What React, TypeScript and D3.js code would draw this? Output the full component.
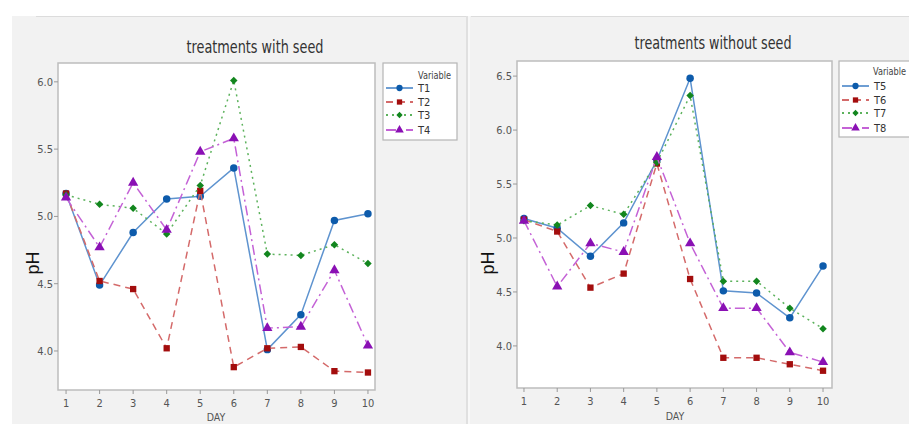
import React from 'react';
import * as d3 from 'd3';

// days on the x axis
const days = [1, 2, 3, 4, 5, 6, 7, 8, 9, 10];

// treatments with seed
const t1 = [5.17, 4.49, 4.88, 5.13, 5.15, 5.36, 4.01, 4.27, 4.97, 5.02];
const t2 = [5.17, 4.52, 4.46, 4.02, 5.19, 3.88, 4.02, 4.03, 3.85, 3.84];
const t3 = [5.16, 5.09, 5.06, 4.87, 5.23, 6.01, 4.72, 4.71, 4.79, 4.65];
const t4 = [5.14, 4.77, 5.25, 4.90, 5.48, 5.58, 4.17, 4.18, 4.60, 4.04];

// treatments without seed
const t5 = [5.18, 5.09, 4.83, 5.14, 5.72, 6.48, 4.51, 4.49, 4.26, 4.74];
const t6 = [5.17, 5.06, 4.54, 4.67, 5.69, 4.62, 3.89, 3.89, 3.83, 3.77];
const t7 = [5.16, 5.12, 5.30, 5.22, 5.70, 6.32, 4.60, 4.60, 4.35, 4.16];
const t8 = [5.16, 4.55, 4.95, 4.87, 5.75, 4.95, 4.35, 4.35, 3.94, 3.85];

const leftTicks = [4.0, 4.5, 5.0, 5.5, 6.0];
const rightTicks = [4.0, 4.5, 5.0, 5.5, 6.0, 6.5];

// line / marker styles per slot (same for both panels)
const styles = [
  { line: '#5e93cf', mark: '#0d5bab', dash: null, sym: d3.symbolCircle, size: 44 },
  { line: '#d46a6a', mark: '#a30d0d', dash: '7,5', sym: d3.symbolSquare, size: 40 },
  { line: '#5cb25c', mark: '#12861e', dash: '2,4', sym: d3.symbolDiamond2, size: 36 },
  { line: '#c462d6', mark: '#8a10b4', dash: '10,4,2,4', sym: d3.symbolTriangle, size: 46 },
];

const condensed = '"DejaVu Sans Condensed", "Liberation Sans Narrow", "DejaVu Sans", sans-serif';

type Panel = {
  title: string;
  titleX: number;
  titleY: number;
  titleW: number;
  names: string[];
  values: number[][];
  plot: [number, number, number, number]; // x0, y0, x1, y1
  xDomain: [number, number];
  yDomain: [number, number];
  yTicks: number[];
  legend: { x: number; y: number; w: number; h: number; rows: number[]; head: number; headX: number };
  phX: number;
  dayX: number;
  dayY: number;
};

const panels: Panel[] = [
  {
    title: 'treatments with seed',
    titleX: 255, titleY: 53, titleW: 137,
    names: ['T1', 'T2', 'T3', 'T4'],
    values: [t1, t2, t3, t4],
    plot: [58, 63, 375, 390],
    xDomain: [0.76, 10.21],
    yDomain: [3.71, 6.14],
    yTicks: leftTicks,
    legend: { x: 383, y: 63, w: 74, h: 77, rows: [88, 102, 115, 130], head: 79, headX: 418 },
    phX: 33, dayX: 216, dayY: 421,
  },
  {
    title: 'treatments without seed',
    titleX: 713, titleY: 49, titleW: 157,
    names: ['T5', 'T6', 'T7', 'T8'],
    values: [t5, t6, t7, t8],
    plot: [517, 61, 832, 388],
    xDomain: [0.79, 10.27],
    yDomain: [3.61, 6.64],
    yTicks: rightTicks,
    legend: { x: 839, y: 61, w: 80, h: 76, rows: [86, 100, 113, 128], head: 75, headX: 873 },
    phX: 488, dayX: 675, dayY: 420,
  },
];

const ChartPanel = ({ p }: { p: Panel }) => {
  const [x0, y0, x1, y1] = p.plot;
  const x = d3.scaleLinear().domain(p.xDomain).range([x0, x1]);
  const y = d3.scaleLinear().domain(p.yDomain).range([y1, y0]);
  const line = d3.line<number>().x((d, i) => x(days[i])).y(d => y(d));
  const L = p.legend;

  return (
    <g>
      <text x={p.titleX} y={p.titleY} textAnchor="middle" fontSize={18} fill="#333"
        fontFamily={condensed} textLength={p.titleW} lengthAdjust="spacingAndGlyphs">{p.title}</text>
      <rect x={x0} y={y0} width={x1 - x0} height={y1 - y0} fill="#fff" stroke="#bdbdbd" strokeWidth={1.5} />
      {p.yTicks.map(t => (
        <g key={t}>
          <line x1={x0 - 4} x2={x0} y1={y(t)} y2={y(t)} stroke="#999" />
          <text x={x0 - 5} y={y(t) + 4} textAnchor="end" fontSize={11} fill="#555"
            fontFamily={condensed}>{t.toFixed(1)}</text>
        </g>
      ))}
      {days.map(d => (
        <g key={d}>
          <line x1={x(d)} x2={x(d)} y1={y1} y2={y1 + 4} stroke="#999" />
          <text x={x(d)} y={y1 + 17} textAnchor="middle" fontSize={11} fill="#555"
            fontFamily={condensed}>{d}</text>
        </g>
      ))}
      <text x={p.dayX} y={p.dayY} textAnchor="middle" fontSize={10.5} fill="#555" fontFamily={condensed}>DAY</text>
      <text transform={`translate(${p.phX + 6},263) rotate(-90)`} textAnchor="middle" fontSize={18}
        fill="#111" fontFamily="'Liberation Sans', Arial, sans-serif">pH</text>
      {p.values.map((vals, k) => {
        const s = styles[k];
        return (
          <g key={k}>
            <path d={line(vals) ?? ''} fill="none" stroke={s.line} strokeWidth={1.5}
              strokeDasharray={s.dash ?? undefined} />
            {vals.map((v, i) => (
              <path key={i} transform={`translate(${x(days[i])},${y(v)})`}
                d={d3.symbol(s.sym, s.size)() ?? ''} fill={s.mark} />
            ))}
          </g>
        );
      })}
      <rect x={L.x} y={L.y} width={L.w} height={L.h} fill="#fff" stroke="#b5b5b5" strokeWidth={1.2} />
      <text x={L.headX} y={L.head} fontSize={10} fill="#444" fontFamily={condensed}
        textLength={33} lengthAdjust="spacingAndGlyphs">Variable</text>
      {p.names.map((n, k) => {
        const s = styles[k];
        const ry = L.rows[k];
        return (
          <g key={n}>
            <line x1={L.x + 3} x2={L.x + 30} y1={ry} y2={ry} stroke={s.line} strokeWidth={1.8}
              strokeDasharray={s.dash ?? undefined} />
            <path transform={`translate(${L.x + 16.5},${ry})`} d={d3.symbol(s.sym, s.size * 0.7)() ?? ''} fill={s.mark} />
            <text x={L.x + 35} y={ry + 4} fontSize={11} fill="#333" fontFamily={condensed}>{n}</text>
          </g>
        );
      })}
    </g>
  );
};

export default function App() {
  return (
    <svg width={909} height={424} style={{ position: 'absolute', left: 0, top: 0 }}
      fontFamily="sans-serif">
      <rect x={0} y={0} width={909} height={424} fill="#fff" />
      <rect x={12} y={16} width={897} height={408} fill="#f2f2f2" />
      <line x1={36} x2={466} y1={16.5} y2={16.5} stroke="#dcdcdc" />
      <line x1={471} x2={909} y1={16.5} y2={16.5} stroke="#dcdcdc" />
      <line x1={467} x2={467} y1={16} y2={424} stroke="#dadada" strokeWidth={1.5} />
      <line x1={469} x2={469} y1={16} y2={424} stroke="#fafafa" strokeWidth={1.5} />
      {panels.map(p => <ChartPanel key={p.title} p={p} />)}
    </svg>
  );
}
